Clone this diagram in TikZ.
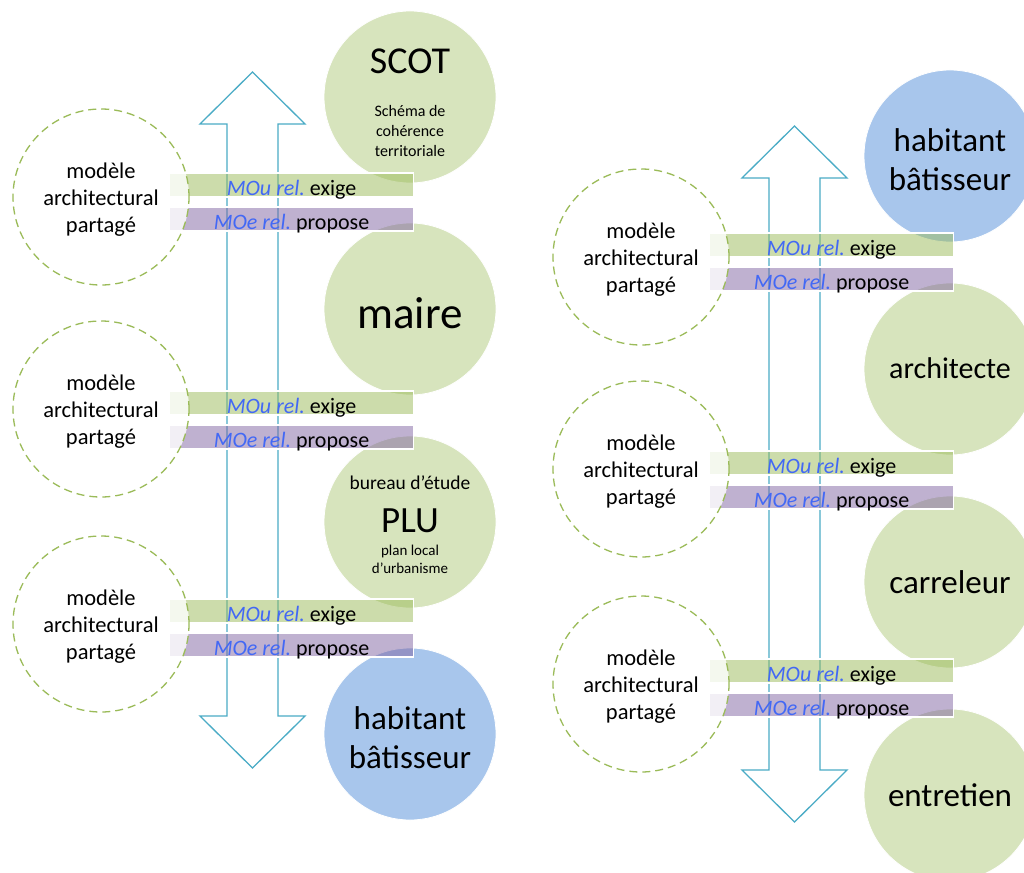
\documentclass[tikz,border=0pt]{standalone}
\usepackage{fontspec}
\setmainfont{Carlito}
\usetikzlibrary{positioning}
\definecolor{vertolive}{RGB}{155,187,89}
\definecolor{vertpale}{RGB}{215,228,189}
\definecolor{bleupale}{RGB}{168,198,236}
\definecolor{violetmo}{RGB}{128,100,162}
\definecolor{cyanfleche}{RGB}{75,172,198}
\definecolor{bleutexte}{RGB}{66,104,245}
\frenchspacing
\newcommand{\relmo}[1]{{\itshape\color{bleutexte}#1 rel.}}
\newcommand{\doublefleche}[3]{% x, haut, bas
  \pgfmathsetmacro{\tige}{#3-#2-104}
  \draw[fleche] (#1,#2) -- ++(52.5,52) -- ++(-27,0) -- ++(0,\tige)
    -- ++(27,0) -- ++(-52.5,52) -- ++(-52.5,-52) -- ++(27,0)
    -- ++(0,-\tige) -- ++(-27,0) -- cycle;
}
\newcommand{\relations}[1]{%
  \foreach \yb/\yc [count=\i] in {185/197,403/409,611/624} {
    \node[exige] (#1-exige\i) at (291.5,\yb) {\relmo{MOu} exige};
    \node[propose] (#1-propose\i) at (291.5,\yb+34) {\relmo{MOe} propose};
    \node[modele] (#1-modele\i) at (101,\yc) {};
    \node[texte modele] (#1-texte\i) at (101,\yc+3) {modèle\\architectural\\partagé};
  }
}
\tikzset{
  fleche/.style={draw=cyanfleche, line width=1.3pt, fill=white},
  bulle/.style={circle, fill=vertpale, draw=white, line width=0.8pt,
    minimum size=172pt, inner sep=0pt},
  habitant/.style={bulle, fill=bleupale},
  titre/.style={anchor=base, inner sep=0pt, font=\fontsize{38}{46}\selectfont},
  soustitre/.style={align=center, inner sep=0pt, font=\fontsize{16}{20}\selectfont},
  modele/.style={circle, draw=vertolive, dash pattern=on 8pt off 5pt,
    line width=1.3pt, fill=white, fill opacity=0.8, minimum size=176pt},
  texte modele/.style={align=center, inner sep=0pt,
    font=\fontsize{22.5}{27}\selectfont},
  barre/.style={rectangle, draw=white, line width=1.3pt, fill opacity=0.5,
    text opacity=1, minimum width=244pt, inner xsep=0pt, inner ysep=0pt,
    text height=22pt, text depth=2pt, font=\fontsize{22}{27}\selectfont},
  exige/.style={barre, fill=vertolive},
  propose/.style={barre, fill=violetmo},
}
\begin{document}
\begin{tikzpicture}[x=1pt,y=-1pt]
\clip (0,0) rectangle (1024,872);
\fill[white] (0,0) rectangle (1024,872);
% gauche
\doublefleche{252.5}{72}{768}
\node[bulle] (scot) at (410,97) {};
\node[titre] (scot-titre) at (410,74) {SCOT};
\node[soustitre] (scot-sous) at (410,131) {Schéma de\\cohérence\\territoriale};
\node[bulle] (maire) at (410,309) {};
\node[titre, font=\fontsize{45}{54}\selectfont] (maire-titre) at (410,328) {maire};
\node[bulle] (plu) at (410,522) {};
\node[titre, font=\fontsize{19.5}{24}\selectfont] (plu-bureau) at (410,489) {bureau d’étude};
\node[titre, font=\fontsize{37}{44}\selectfont] (plu-titre) at (410,532) {PLU};
\node[soustitre, font=\fontsize{15}{18}\selectfont] (plu-sous) at (410,559) {plan local\\d’urbanisme};
\node[habitant] (habitant-g) at (410,734) {};
\node[soustitre, font=\fontsize{33}{39}\selectfont] (habitant-g-texte) at (410,738) {habitant\\bâtisseur};
\relations{g}
% droite
\begin{scope}[shift={(540,60)}]
\doublefleche{254.5}{66}{762}
\node[habitant] (habitant-d) at (410,96) {};
\node[soustitre, font=\fontsize{33}{39}\selectfont] (habitant-d-texte) at (410,100) {habitant\\bâtisseur};
\node[bulle] (architecte) at (410,309) {};
\node[titre, font=\fontsize{30}{36}\selectfont] (architecte-titre) at (410,318) {architecte};
\node[bulle] (carreleur) at (410,522) {};
\node[titre, font=\fontsize{33}{39}\selectfont] (carreleur-titre) at (410,533) {carreleur};
\node[bulle] (entretien) at (410,735) {};
\node[titre, font=\fontsize{33}{39}\selectfont] (entretien-titre) at (410,746) {entretien};
\relations{d}
\end{scope}
\end{tikzpicture}
\end{document}
